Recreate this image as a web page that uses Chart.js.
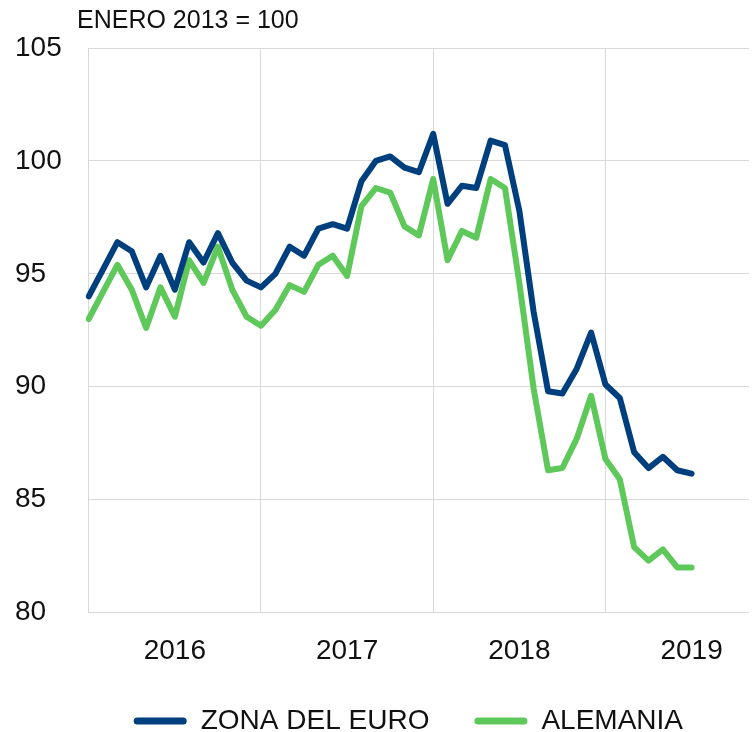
<!DOCTYPE html>
<html>
<head>
<meta charset="utf-8">
<script src="https://cdn.jsdelivr.net/npm/chart.js@4.4.0/dist/chart.umd.min.js"></script>
<style>
  body { margin: 0; background: #fff; }
  #wrap { width: 752px; height: 732px; }
</style>
</head>
<body>
<div id="wrap"><canvas id="myChart"></canvas></div>
<script>
const titleText = 'ENERO 2013 = 100'
const tickYears = ['2016', '2017', '2018', '2019']
const monthsShown = 47

// monthly index, starting January 2016
const zonaEuro = [94.0, 95.2, 96.4, 96.0, 94.4, 95.8, 94.3, 96.4, 95.5, 96.8, 95.5, 94.7,
  94.4, 95.0, 96.2, 95.8, 97.0, 97.2, 97.0, 99.1, 100.0, 100.2, 99.7, 99.5,
  101.2, 98.1, 98.9, 98.8, 100.9, 100.7, 97.8, 93.3, 89.8, 89.7, 90.8, 92.4,
  90.1, 89.5, 87.1, 86.4, 86.9, 86.3, 86.15]
const alemania = [93.0, 94.2, 95.4, 94.3, 92.6, 94.4, 93.1, 95.6, 94.6, 96.2, 94.3, 93.1,
  92.7, 93.4, 94.5, 94.2, 95.4, 95.8, 94.9, 98.0, 98.8, 98.6, 97.1, 96.7,
  99.2, 95.6, 96.9, 96.6, 99.2, 98.8, 94.6, 89.9, 86.3, 86.4, 87.7, 89.6,
  86.8, 85.9, 82.9, 82.3, 82.8, 82.0, 82.0]

const labels = []
for (let i = 0; i < monthsShown; i++) {
  const y = 2016 + Math.floor(i / 12)
  labels.push(y + '-' + String(i % 12 + 1).padStart(2, '0'))
}

const font = '"Liberation Sans", Arial, sans-serif'
const gridColor = '#d9d9d9'

// the note above the plot, left of the axis
const titlePlugin = {
  id: 'topNote',
  afterDraw (chart) {
    const c = chart.ctx
    c.save()
    c.font = '25px ' + font
    c.fillStyle = '#111'
    c.textBaseline = 'top'
    c.fillText(titleText, 77, 9)
    c.restore()
  }
}

const ctx = document.getElementById('myChart').getContext('2d')
const myChart = new Chart(ctx, {
  type: 'line',
  data: {
    labels: labels,
    datasets: [{
      label: 'ZONA DEL EURO',
      data: zonaEuro,
      borderColor: '#003f7d',
      backgroundColor: '#003f7d',
      borderWidth: 6,
      tension: 0,
      pointRadius: 0,
      borderJoinStyle: 'round',
      borderCapStyle: 'round'
    }, {
      label: 'ALEMANIA',
      data: alemania,
      borderColor: '#5ec85a',
      backgroundColor: '#5ec85a',
      borderWidth: 6,
      tension: 0,
      pointRadius: 0,
      borderJoinStyle: 'round',
      borderCapStyle: 'round'
    }]
  },
  options: {
    responsive: true,
    maintainAspectRatio: false,
    animation: false,
    layout: { padding: { top: 48, left: 15, right: 3, bottom: 0 } },
    scales: {
      x: {
        border: { display: false },
        grid: {
          drawTicks: true,
          tickLength: 29,
          tickColor: 'rgba(0,0,0,0)',
          color: (c) => (c.index % 12 === 0 ? gridColor : 'rgba(0,0,0,0)')
        },
        ticks: {
          autoSkip: false,
          maxRotation: 0,
          padding: 0,
          color: '#111',
          font: { family: font, size: 28, lineHeight: 0.73 },
          callback: (v, i) => (i % 12 === 6 ? tickYears[Math.floor(i / 12)] : '')
        }
      },
      y: {
        min: 80,
        max: 105,
        border: { display: false },
        grid: { drawTicks: false, color: gridColor },
        ticks: {
          stepSize: 5,
          crossAlign: 'far',
          padding: 13.5,
          color: '#111',
          font: { family: font, size: 28 }
        }
      }
    },
    plugins: {
      legend: {
        position: 'bottom',
        fullSize: false,
        align: 'start',
        maxHeight: 70,
        labels: {
          boxWidth: 53,
          boxHeight: 7,
          padding: 45,
          useBorderRadius: true,
          borderRadius: 3.5,
          color: '#111',
          font: { family: font, size: 28 },
          generateLabels: (chart) => Chart.defaults.plugins.legend.labels.generateLabels(chart)
            .map(l => Object.assign(l, { lineWidth: 0 }))
        }
      },
      tooltip: { enabled: false }
    }
  },
  plugins: [titlePlugin]
})
</script>
</body>
</html>
